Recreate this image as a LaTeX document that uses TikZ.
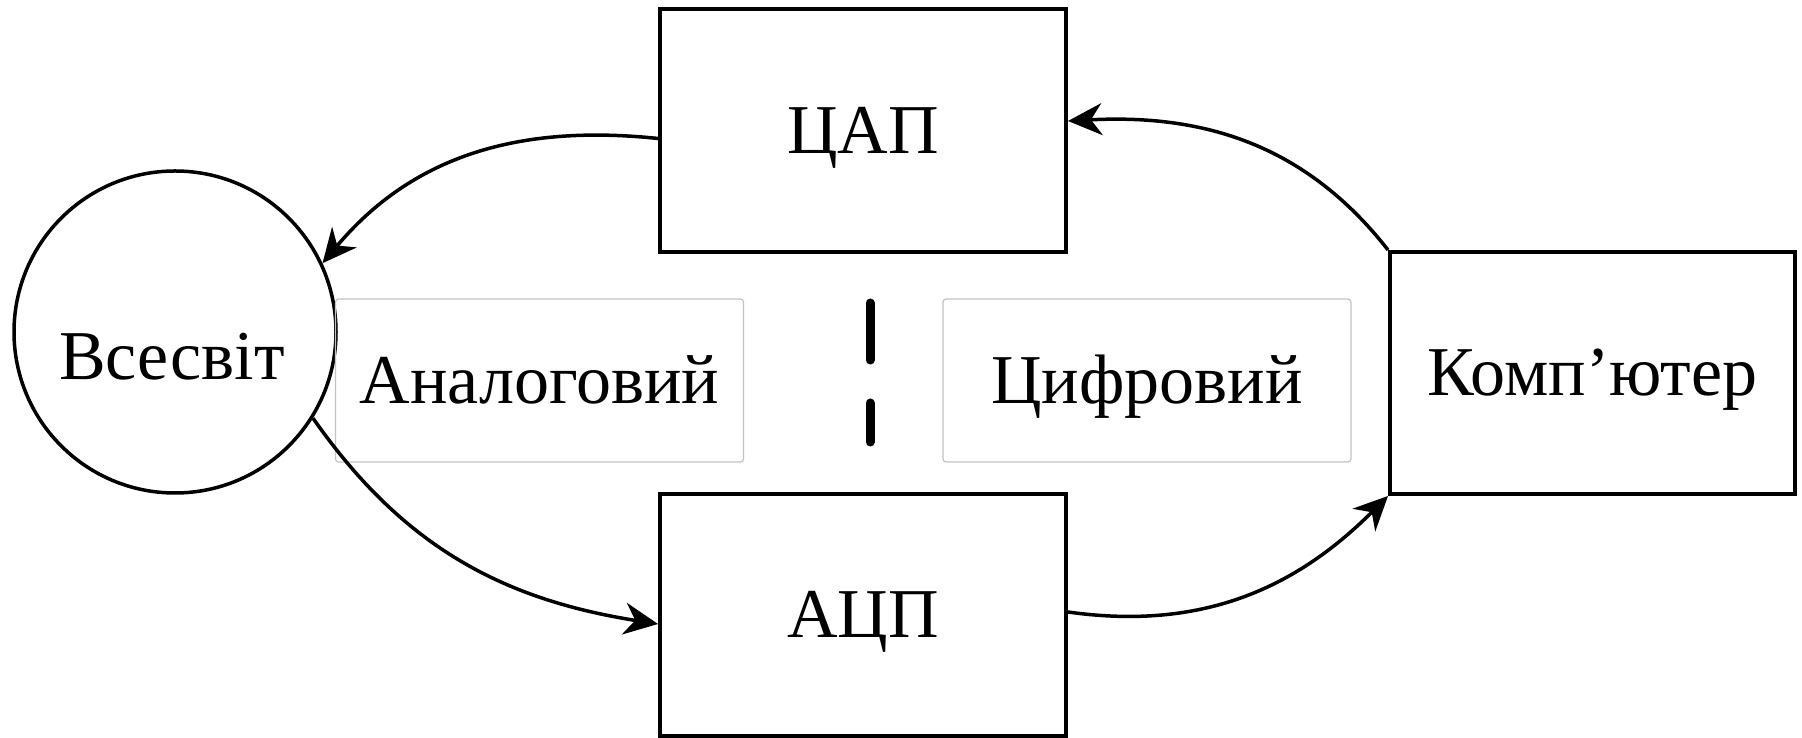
\documentclass[tikz,border=0pt]{standalone}
\usepackage{fontspec}
\setmainfont{Liberation Serif}
\usetikzlibrary{arrows.meta}
\begin{document}
\begin{tikzpicture}[x=1pt,y=1pt,
  font=\fontsize{70}{84}\selectfont,
  capcentre/.style={text height=46pt, text depth=0pt},
  block/.style={draw=black, line width=4pt, inner sep=0pt, capcentre},
  zone/.style={draw=black!24, line width=1.2pt, rounded corners=3pt, inner sep=0pt,
               minimum width=408pt, minimum height=163pt, capcentre},
  link/.style={line width=3.5pt, -{Stealth[length=34pt,width=32pt,inset=11pt]}},
  divider/.style={line width=9pt, line cap=round}]
  \useasboundingbox (0,0) rectangle (1802,738);

  % the outside world
  \node[draw=black, line width=3.5pt, circle, minimum size=322pt, inner sep=0pt]
    (world) at (175,406) {};
  \node[capcentre, inner sep=0pt] (worldtext) at (172,381) {Всесвіт};

  % converters and computer
  \node[block, minimum width=406pt, minimum height=243pt] (dac) at (863,607.5) {ЦАП};
  \node[block, minimum width=406pt, minimum height=242pt] (adc) at (863,123) {АЦП};
  \node[block, minimum width=405pt, minimum height=242pt] (pc) at (1592.5,365) {Комп’ютер};

  % domain labels
  \node[zone] (analog) at (539.5,357.5) {Аналоговий};
  \node[zone] (digital) at (1147,357.5) {Цифровий};

  % analog / digital boundary
  \coordinate (d1a) at (870,435);
  \coordinate (d1b) at (870,378);
  \coordinate (d2a) at (870,335);
  \coordinate (d2b) at (870,296);
  \draw[divider] (d1a) -- (d1b);
  \draw[divider] (d2a) -- (d2b);

  % signal loop
  \draw[link] ([yshift=-8pt]dac.west) to[out=174, in=50] (world.25);
  \draw[link] (world.-32) to[out=-55, in=171] ([yshift=-9pt]adc.west);
  \draw[link] ([yshift=3pt]adc.east) to[out=-8, in=-135] (pc.south west);
  \draw[link] (pc.north west) to[out=128, in=3] ([yshift=9.5pt]dac.east);
\end{tikzpicture}
\end{document}
